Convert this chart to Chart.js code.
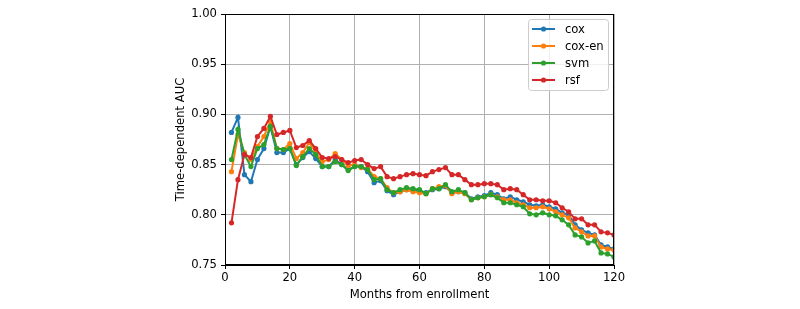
<!DOCTYPE html>
<html lang="en">
  <head>
    <meta charset="UTF-8" />
    <title>Time-dependent AUC</title>
  </head>
  <style>
    * {
      margin: 0;
      padding: 0;
    }
    body {
      background: white;
    }
    .chartBox {
      width: 800px;
      height: 309px;
    }
  </style>
  <body>
    <div class="chartBox">
      <canvas id="myChart" width="800" height="309"></canvas>
    </div>

    <script src="https://cdn.jsdelivr.net/npm/chart.js"></script>

    <script>
      // data block
      const months = [
        2, 4, 6, 8, 10, 12, 14, 16, 18, 20, 22, 24, 26, 28, 30, 32, 34, 36, 38, 40,
        42, 44, 46, 48, 50, 52, 54, 56, 58, 60, 62, 64, 66, 68, 70, 72, 74, 76, 78, 80,
        82, 84, 86, 88, 90, 92, 94, 96, 98, 100, 102, 104, 106, 108, 110, 112, 114, 116, 118, 120
      ];
      const cox = [
        0.882, 0.897, 0.840, 0.833, 0.855, 0.866, 0.888, 0.862, 0.862, 0.866,
        0.850, 0.857, 0.863, 0.856, 0.848, 0.848, 0.855, 0.850, 0.845, 0.848,
        0.848, 0.843, 0.832, 0.834, 0.824, 0.820, 0.823, 0.825, 0.824, 0.824,
        0.822, 0.825, 0.826, 0.828, 0.822, 0.823, 0.822, 0.816, 0.818, 0.819,
        0.822, 0.820, 0.816, 0.818, 0.815, 0.813, 0.810, 0.809, 0.810, 0.808,
        0.806, 0.802, 0.800, 0.790, 0.785, 0.782, 0.780, 0.770, 0.768, 0.766
      ];
      const coxEn = [
        0.843, 0.880, 0.862, 0.855, 0.868, 0.878, 0.893, 0.866, 0.865, 0.871,
        0.856, 0.862, 0.872, 0.862, 0.853, 0.855, 0.861, 0.855, 0.849, 0.850,
        0.847, 0.846, 0.838, 0.836, 0.827, 0.822, 0.823, 0.825, 0.823, 0.822,
        0.821, 0.826, 0.828, 0.829, 0.821, 0.823, 0.821, 0.815, 0.817, 0.818,
        0.820, 0.818, 0.815, 0.815, 0.812, 0.810, 0.807, 0.807, 0.808, 0.806,
        0.803, 0.800, 0.797, 0.787, 0.783, 0.779, 0.779, 0.768, 0.766, 0.765
      ];
      const svm = [
        0.855, 0.885, 0.860, 0.848, 0.866, 0.870, 0.888, 0.866, 0.865, 0.866,
        0.849, 0.858, 0.866, 0.860, 0.848, 0.848, 0.853, 0.850, 0.844, 0.848,
        0.848, 0.845, 0.835, 0.836, 0.825, 0.822, 0.825, 0.827, 0.826, 0.825,
        0.821, 0.826, 0.826, 0.830, 0.823, 0.825, 0.822, 0.815, 0.817, 0.818,
        0.820, 0.817, 0.812, 0.812, 0.810, 0.808, 0.801, 0.800, 0.802, 0.800,
        0.799, 0.795, 0.790, 0.780, 0.778, 0.772, 0.774, 0.762, 0.761, 0.758
      ];
      const rsf = [
        0.792, 0.835, 0.860, 0.857, 0.878, 0.886, 0.898, 0.880, 0.882, 0.884,
        0.867, 0.869, 0.874, 0.866, 0.857, 0.856, 0.858, 0.855, 0.852, 0.854,
        0.855, 0.850, 0.846, 0.848, 0.838, 0.836, 0.838, 0.840, 0.841, 0.840,
        0.839, 0.843, 0.845, 0.847, 0.840, 0.840, 0.835, 0.830, 0.830, 0.831,
        0.831, 0.830, 0.825, 0.826, 0.825, 0.820, 0.815, 0.815, 0.814, 0.814,
        0.812, 0.807, 0.803, 0.796, 0.796, 0.790, 0.790, 0.783, 0.782, 0.780
      ];
      const seriesNames = ["cox", "cox-en", "svm", "rsf"];
      const seriesColors = ["#1f77b4", "#ff7f0e", "#2ca02c", "#d62728"];
      const seriesValues = [cox, coxEn, svm, rsf];

      const font = "DejaVu Sans";
      const fontSize = 11.6;

      const makeDataset = (i) => ({
        label: seriesNames[i],
        data: months.map((m, j) => ({ x: m, y: seriesValues[i][j] })),
        borderColor: seriesColors[i],
        backgroundColor: seriesColors[i],
        borderWidth: 2,
        pointRadius: 2.6,
        pointHoverRadius: 2.6,
        pointBorderWidth: 0,
        order: 3 - i
      });

      // top/right spines
      const frame = {
        id: "frame",
        afterDatasetsDraw(chart) {
          const { ctx, chartArea: { top, bottom, left, right } } = chart;
          ctx.save();
          ctx.strokeStyle = "#000";
          ctx.lineWidth = 1;
          ctx.strokeRect(left + 0.5, top + 0.5, right - left - 1, bottom - top - 1);
          ctx.restore();
        }
      };

      // matplotlib style legend in the upper right
      const boxLegend = {
        id: "boxLegend",
        afterDraw(chart) {
          const { ctx, chartArea: { top, right } } = chart;
          const w = 80, h = 71;
          const x0 = right - 6 - w, y0 = top + 5;
          ctx.save();
          ctx.beginPath();
          ctx.roundRect(x0 + 0.5, y0 + 0.5, w, h, 3);
          ctx.fillStyle = "rgba(255,255,255,0.8)";
          ctx.fill();
          ctx.strokeStyle = "#cccccc";
          ctx.lineWidth = 1;
          ctx.stroke();
          ctx.font = `${fontSize}px ${font}`;
          ctx.textBaseline = "middle";
          seriesNames.forEach((name, i) => {
            const y = y0 + 10 + i * 17;
            ctx.strokeStyle = seriesColors[i];
            ctx.lineWidth = 2;
            ctx.beginPath();
            ctx.moveTo(x0 + 4, y);
            ctx.lineTo(x0 + 27, y);
            ctx.stroke();
            ctx.fillStyle = seriesColors[i];
            ctx.beginPath();
            ctx.arc(x0 + 15.5, y, 2.6, 0, Math.PI * 2);
            ctx.fill();
            ctx.fillStyle = "#000";
            ctx.fillText(name, x0 + 37, y + 1);
          });
          ctx.restore();
        }
      };

      // config block
      const config = {
        type: "line",
        data: {
          datasets: [0, 1, 2, 3].map(makeDataset)
        },
        options: {
          responsive: false,
          animation: false,
          layout: { padding: { top: 14, right: 186, left: 174, bottom: 7 } },
          plugins: {
            legend: { display: false },
            tooltip: { enabled: false }
          },
          scales: {
            x: {
              type: "linear",
              min: 0,
              max: 120,
              afterFit: (s) => { s.height = 37; },
              ticks: {
                stepSize: 20,
                color: "#000",
                padding: 2,
                maxRotation: 0,
                font: { family: font, size: fontSize }
              },
              grid: { color: "#b0b0b0", tickColor: "#000", tickLength: 4, lineWidth: 1 },
              border: { color: "#000" },
              title: {
                display: true,
                text: "Months from enrollment",
                color: "#000",
                padding: { top: 2, bottom: 0 },
                font: { family: font, size: fontSize }
              }
            },
            y: {
              min: 0.75,
              max: 1.0,
              afterFit: (s) => { s.width = 51; },
              ticks: {
                stepSize: 0.05,
                color: "#000",
                padding: 4,
                callback: (v) => v.toFixed(2),
                font: { family: font, size: fontSize }
              },
              grid: { color: "#b0b0b0", tickColor: "#000", tickLength: 4, lineWidth: 1 },
              border: { color: "#000" },
              title: {
                display: true,
                text: "Time-dependent AUC",
                color: "#000",
                padding: { top: 0, bottom: 4 },
                font: { family: font, size: fontSize }
              }
            }
          }
        },
        plugins: [frame, boxLegend]
      };

      // init render block
      const myChart = new Chart(document.getElementById("myChart"), config);
    </script>
  </body>
</html>
